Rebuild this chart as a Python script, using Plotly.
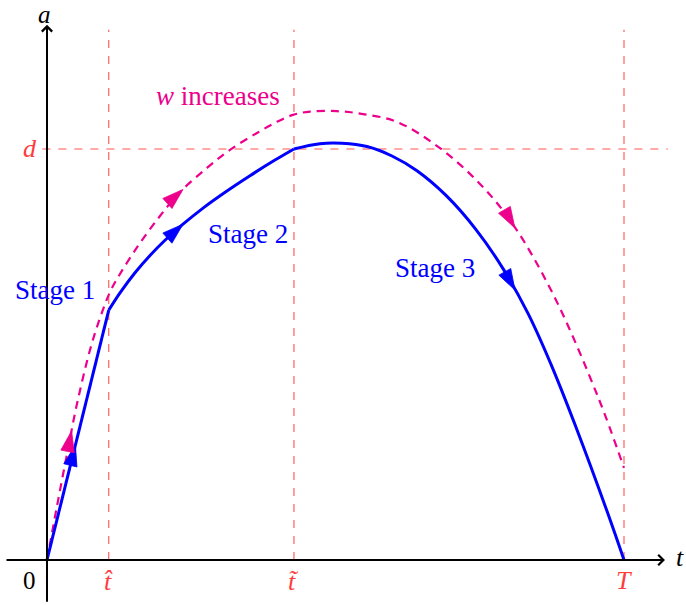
import plotly.graph_objects as go

# Key instants on the t-axis and the level d on the a-axis
T_HAT = 1.07
T_TILDE = 4.28
T_END = 10.0
D_LEVEL = 10.0

# Stage 1: straight rise from the origin up to t-hat
stage1_t = [0.0, 1.07]
stage1_a = [0.0, 6.08]

# Stage 2: concave rise from t-hat up to the level d at t-tilde
stage2_t = [1.07, 1.265, 1.525, 1.785, 2.045, 2.357, 2.721, 3.068, 3.518, 3.951, 4.28]
stage2_a = [6.08, 6.50, 6.99, 7.41, 7.78, 8.17, 8.58, 8.93, 9.35, 9.73, 10.0]

# Stage 3: slight overshoot past d, then the fall back to zero at T
stage3_t = [4.28, 4.731, 5.113, 5.546, 5.979, 6.412, 6.915, 7.435, 7.903,
            8.336, 8.735, 9.168, 9.705, 10.0]
stage3_a = [10.0, 10.13, 10.14, 10.06, 9.83, 9.47, 8.87, 8.04, 7.09,
            6.00, 4.76, 3.23, 1.19, 0.0]

# Trajectory when w increases
w_t = [0.0, 0.173, 0.347, 0.520, 0.745, 0.919, 1.092, 1.265, 1.577, 1.958,
       2.305, 2.773, 3.172, 3.640, 3.986, 4.263, 4.558, 5.026, 5.477, 6.066,
       6.811, 7.504, 8.059, 8.770, 9.549, 10.0]
w_a = [0.0, 1.31, 2.58, 3.80, 5.11, 5.89, 6.52, 6.96, 7.64, 8.37,
       8.95, 9.54, 9.98, 10.39, 10.66, 10.83, 10.91, 10.92, 10.85, 10.66,
       10.02, 9.15, 8.20, 6.47, 3.97, 2.24]

BLUE = "#0000ff"
MAGENTA = "#ec008c"
RED_LINE = "rgba(255,40,40,0.8)"
RED_TEXT = "#ff3c3c"
FONT = "Liberation Serif, Times New Roman, DejaVu Serif, serif"

# Visible window in data units (axes hidden; drawn by hand below)
X_RANGE = [-0.8146, 11.0745]
Y_RANGE = [-1.0949, 13.625]
Y_TOP_GUIDE = 12.9

fig = go.Figure()

# Red dashed guide lines
for tv in (T_HAT, T_TILDE, T_END):
    fig.add_trace(go.Scatter(x=[tv, tv], y=[0, Y_TOP_GUIDE], mode="lines",
                             line=dict(color=RED_LINE, width=1.1, dash="8px,8px"),
                             hoverinfo="skip", showlegend=False))
fig.add_trace(go.Scatter(x=[-0.08, 10.76], y=[D_LEVEL, D_LEVEL], mode="lines",
                         line=dict(color=RED_LINE, width=1.1, dash="8px,8px"),
                         hoverinfo="skip", showlegend=False))

# Dashed magenta trajectory
fig.add_trace(go.Scatter(x=w_t, y=w_a, mode="lines",
                         line=dict(color=MAGENTA, width=2.2, dash="8px,6px",
                                   shape="spline", smoothing=1.0),
                         hoverinfo="skip", showlegend=False))

# Solid blue trajectory, three stages
fig.add_trace(go.Scatter(x=stage1_t, y=stage1_a, mode="lines",
                         line=dict(color=BLUE, width=3),
                         hoverinfo="skip", showlegend=False))
fig.add_trace(go.Scatter(x=stage2_t, y=stage2_a, mode="lines",
                         line=dict(color=BLUE, width=3, shape="spline", smoothing=1.0),
                         hoverinfo="skip", showlegend=False))
fig.add_trace(go.Scatter(x=stage3_t, y=stage3_a, mode="lines",
                         line=dict(color=BLUE, width=3, shape="spline", smoothing=1.1),
                         hoverinfo="skip", showlegend=False))


def arrow_head(ts, av, i, f, color):
    """Arrowhead placed a fraction f along segment i-1 -> i, pointing forward."""
    t0, a0 = ts[i - 1], av[i - 1]
    t1, a1 = ts[i], av[i]
    tip_t = t0 + f * (t1 - t0)
    tip_a = a0 + f * (a1 - a0)
    return go.Scatter(x=[t0, tip_t], y=[a0, tip_a], mode="markers",
                      marker=dict(symbol="arrow", size=[0, 22], angleref="previous",
                                  color=color, opacity=1,
                                  line=dict(width=0.8, color=color)),
                      hoverinfo="skip", showlegend=False)


fig.add_trace(arrow_head(stage1_t, stage1_a, 1, 0.46, BLUE))
fig.add_trace(arrow_head(stage2_t, stage2_a, 5, 1.0, BLUE))
fig.add_trace(arrow_head(stage3_t, stage3_a, 9, 0.48, BLUE))
fig.add_trace(arrow_head(w_t, w_a, 3, 0.46, MAGENTA))
fig.add_trace(arrow_head(w_t, w_a, 11, 0.11, MAGENTA))
fig.add_trace(arrow_head(w_t, w_a, 23, 0.07, MAGENTA))

annotations = []

# Coordinate axes with open arrow tips
annotations.append(dict(x=10.71, y=0, ax=-0.728, ay=0, xref="x", yref="y",
                        axref="x", ayref="y", showarrow=True, arrowhead=4,
                        arrowsize=1, arrowwidth=2, arrowcolor="black",
                        standoff=0, startstandoff=0, text=""))
annotations.append(dict(x=0, y=13.02, ax=0, ay=-1.05, xref="x", yref="y",
                        axref="x", ayref="y", showarrow=True, arrowhead=4,
                        arrowsize=1, arrowwidth=2, arrowcolor="black",
                        standoff=0, startstandoff=0, text=""))


def label(x, y, text, color="black", size=26):
    annotations.append(dict(x=x, y=y, xref="x", yref="y", text=text,
                            showarrow=False, xanchor="center", yanchor="middle",
                            borderpad=0,
                            font=dict(family=FONT, size=size, color=color)))


label(-0.035, 13.28, "<i>a</i>", size=25)
label(10.97, 0.05, "<i>t</i>")
label(-0.295, -0.49, "0", size=25)
label(T_HAT, -0.52, "<i>t\u0302</i>", RED_TEXT)
label(T_TILDE, -0.52, "<i>t\u0303</i>", RED_TEXT)
label(T_END, -0.49, "<i>T</i>", RED_TEXT)
label(-0.295, D_LEVEL, "<i>d</i>", RED_TEXT)
label(0.139, 6.57, "Stage 1", BLUE, 27)
label(3.48, 7.93, "Stage 2", BLUE, 27)
label(6.72, 7.10, "Stage 3", BLUE, 27)
label(2.96, 11.29, "<i>w</i> increases", MAGENTA, 27)

fig.update_layout(
    width=686, height=605,
    margin=dict(l=0, r=0, t=0, b=0),
    paper_bgcolor="white", plot_bgcolor="white",
    xaxis=dict(range=X_RANGE, visible=False, fixedrange=True),
    yaxis=dict(range=Y_RANGE, visible=False, fixedrange=True),
    annotations=annotations,
    showlegend=False,
)

fig.write_html("out.html")
